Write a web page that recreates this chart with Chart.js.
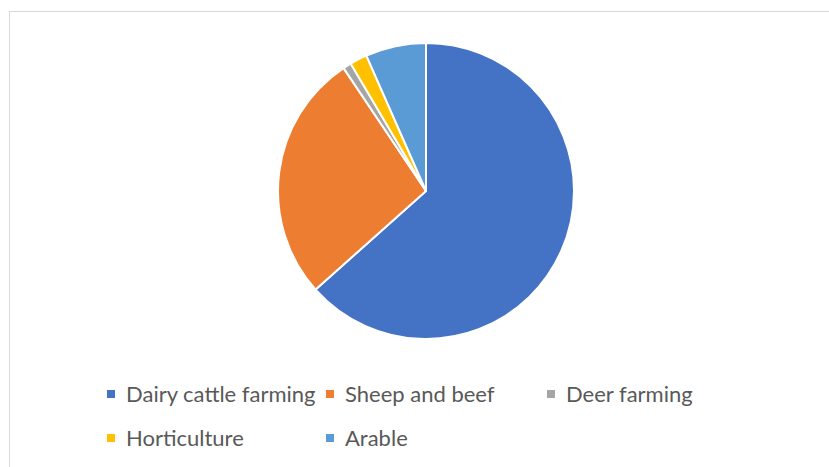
<!DOCTYPE html>
<html>
<head>
<meta charset="utf-8">
<script src="https://cdn.jsdelivr.net/npm/chart.js@4/dist/chart.umd.min.js"></script>
<style>
  html, body { margin: 0; padding: 0; background: #ffffff; }
  #stage { position: relative; width: 829px; height: 467px; overflow: hidden; background: #fff; }
  #frame { position: absolute; left: 9px; top: 11px; width: 840px; height: 480px; border: 1px solid #d9d9d9; box-sizing: border-box; }
  #pieWrap { position: absolute; left: 277px; top: 42px; width: 298px; height: 298px; }
  .lg { position: absolute; font-family: Lato, "Liberation Sans", sans-serif; font-size: 22px; color: #595959; white-space: nowrap; line-height: 26px; height: 26px; }
  .lg .sw { position: absolute; left: 0; top: 9px; width: 8px; height: 8px; }
  .lg .tx { position: absolute; left: 19px; top: 0; }
</style>
</head>
<body>
<div id="stage">
  <div id="frame"></div>
  <div id="pieWrap"><canvas id="c" width="298" height="298"></canvas></div>
  <div id="legend"></div>
</div>
<script>
const categories = ["Dairy cattle farming", "Sheep and beef", "Deer farming", "Horticulture", "Arable"];
const shares = [63.4, 27.2, 0.9, 1.9, 6.6];
const colors = ["#4472C4", "#ED7D31", "#A5A5A5", "#FFC000", "#5B9BD5"];

new Chart(document.getElementById("c"), {
  type: "pie",
  data: {
    labels: categories,
    datasets: [{
      data: shares,
      backgroundColor: colors,
      borderColor: "#ffffff",
      borderWidth: 2
    }]
  },
  options: {
    responsive: false,
    animation: false,
    layout: { padding: 0 },
    plugins: {
      legend: { display: false },
      tooltip: { enabled: false }
    }
  }
});

// Legend laid out in columns like the original
const legend = document.getElementById("legend");
const colX = [107, 326, 547];
const rowY = [381, 425];
categories.forEach((name, i) => {
  const col = i % 3, row = Math.floor(i / 3);
  const item = document.createElement("div");
  item.className = "lg";
  item.style.left = colX[col] + "px";
  item.style.top = rowY[row] + "px";
  const sw = document.createElement("span");
  sw.className = "sw";
  sw.style.background = colors[i];
  const tx = document.createElement("span");
  tx.className = "tx";
  tx.textContent = name;
  item.appendChild(sw);
  item.appendChild(tx);
  legend.appendChild(item);
});
</script>
</body>
</html>
